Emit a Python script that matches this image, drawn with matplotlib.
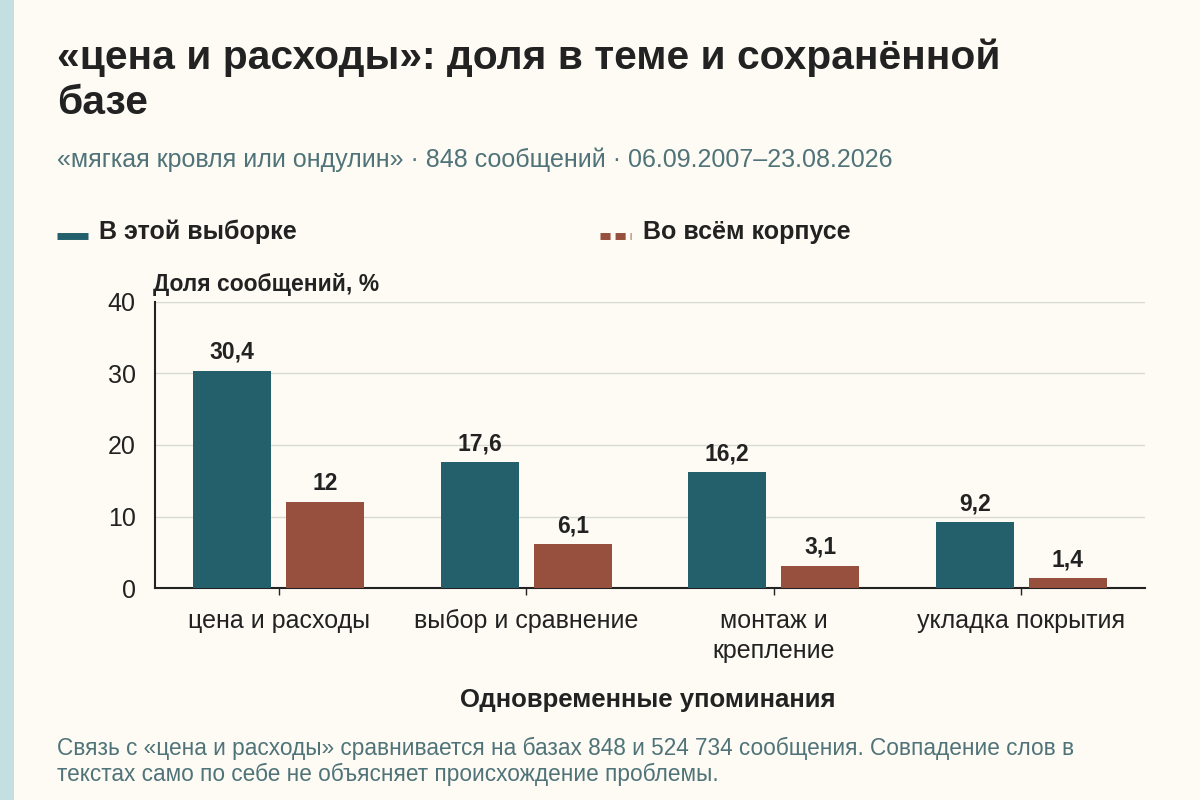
import numpy as np
import matplotlib
matplotlib.use('Agg')
import matplotlib.pyplot as plt
from matplotlib.patches import Rectangle
from matplotlib.lines import Line2D

plt.rcParams['font.family'] = ['Liberation Sans', 'DejaVu Sans']

# data
categories = ['цена и расходы', 'выбор и сравнение', 'монтаж и\nкрепление', 'укладка покрытия']
sample_share = [30.4, 17.6, 16.2, 9.2]
corpus_share = [12, 6.1, 3.1, 1.4]
series_names = ['В этой выборке', 'Во всём корпусе']
y_ticks = [0, 10, 20, 30, 40]

BG = '#fdfbf4'
TEAL = '#24606c'
RUST = '#97503d'
INK = '#222222'
MUTED = '#4f7378'

def fmt(v):
    return ('%g' % v).replace('.', ',')

fig = plt.figure(figsize=(12, 8), dpi=100, facecolor=BG)
fig.patches.append(Rectangle((0, 0), 14 / 1200, 1, transform=fig.transFigure,
                             facecolor='#c3dfe2', edgecolor='none', zorder=0))

def fx(px):
    return px / 1200

def fy(py):
    return 1 - py / 800

# titles
fig.text(fx(57), fy(58), '«цена и расходы»: доля в теме и сохранённой',
         fontsize=29.3, fontweight='bold', color=INK, va='center', ha='left')
fig.text(fx(57), fy(103), 'базе',
         fontsize=29.3, fontweight='bold', color=INK, va='center', ha='left')
fig.text(fx(57), fy(160), '«мягкая кровля или ондулин» · 848 сообщений · 06.09.2007–23.08.2026',
         fontsize=18, color=MUTED, va='center', ha='left')

# legend
fig.add_artist(Line2D([fx(57), fx(88)], [fy(236)] * 2, transform=fig.transFigure,
                      color=TEAL, lw=5, solid_capstyle='butt'))
fig.text(fx(99), fy(232), series_names[0], fontsize=18, fontweight='bold',
         color=INK, va='center', ha='left')
fig.add_artist(Line2D([fx(600), fx(631)], [fy(236)] * 2, transform=fig.transFigure,
                      color=RUST, lw=5, linestyle=(0, (1.45, 0.72)), dash_capstyle='butt'))
fig.text(fx(643), fy(232), series_names[1], fontsize=18, fontweight='bold',
         color=INK, va='center', ha='left')

ax = fig.add_axes([fx(155), fy(588), 990 / 1200, 286 / 800])
ax.set_facecolor(BG)

x = np.arange(len(categories))
w = 0.316
off = 0.188
b1 = ax.bar(x - off, sample_share, w, color=TEAL, zorder=3)
b2 = ax.bar(x + off, corpus_share, w, color=RUST, zorder=3)

for bars, vals in ((b1, sample_share), (b2, corpus_share)):
    for r, v in zip(bars, vals):
        ax.annotate(fmt(v), (r.get_x() + r.get_width() / 2, v), xytext=(0, 5),
                    textcoords='offset points', ha='center', va='bottom',
                    fontsize=16.5, fontweight='bold', color=INK)

ax.set_xlim(-0.5, 3.5)
ax.set_ylim(0, 40)
ax.set_yticks(y_ticks)
ax.set_yticklabels([str(t) for t in y_ticks])
ax.set_xticks(x)
ax.set_xticklabels(categories)
ax.tick_params(axis='y', length=0, pad=14, labelsize=18, labelcolor=INK)
ax.tick_params(axis='x', length=5, width=1, color=INK, pad=10, labelsize=18, labelcolor=INK)
for lab in ax.get_xticklabels():
    lab.set_linespacing(1.3)
    lab.set_verticalalignment('top')

ax.grid(axis='y', color='#d9d9d4', lw=1, zorder=0)
ax.set_axisbelow(True)
for s in ('top', 'right'):
    ax.spines[s].set_visible(False)
for s in ('left', 'bottom'):
    ax.spines[s].set_color(INK)
    ax.spines[s].set_linewidth(1.5)

fig.text(fx(153), fy(285), 'Доля сообщений, %', fontsize=16.5, fontweight='bold',
         color=INK, va='center', ha='left')
fig.text(fx(648), fy(700), 'Одновременные упоминания', fontsize=18.5, fontweight='bold',
         color=INK, va='center', ha='center')

fig.text(fx(57), fy(748),
         'Связь с «цена и расходы» сравнивается на базах 848 и 524 734 сообщения. Совпадение слов в',
         fontsize=16.3, color=MUTED, va='center', ha='left')
fig.text(fx(57), fy(774), 'текстах само по себе не объясняет происхождение проблемы.',
         fontsize=16.3, color=MUTED, va='center', ha='left')

fig.savefig('out.png', dpi=100, facecolor=BG)
